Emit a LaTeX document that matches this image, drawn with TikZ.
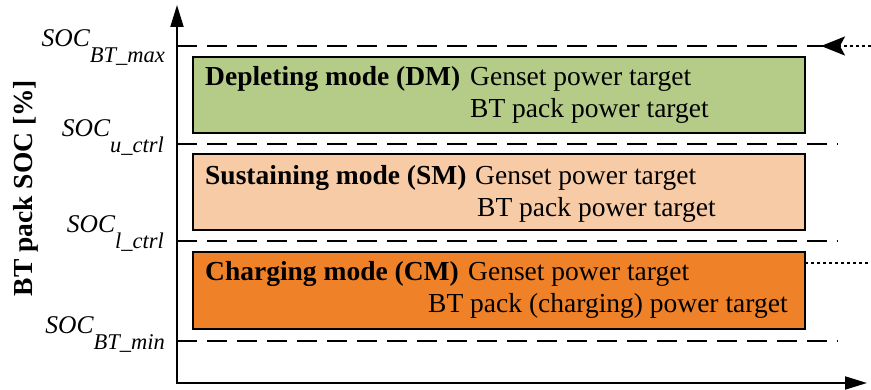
\documentclass[tikz,border=0pt]{standalone}
\usepackage{fontspec}
\setmainfont{Liberation Serif}
\usetikzlibrary{arrows.meta}
\definecolor{dmgreen}{HTML}{B5CB88}
\definecolor{smpeach}{HTML}{F8CBA7}
\definecolor{cmorange}{HTML}{EF8229}
\tikzset{
  axisline/.style={line width=2pt},
  tipA/.tip={Triangle[length=22pt,width=13pt]},
  levelline/.style={line width=2.2pt, dash pattern=on 20pt off 10pt},
  dotline/.style={line width=1.6pt, dash pattern=on 3pt off 3pt},
  modebox/.style={draw, line width=2.5pt, minimum width=612pt, inner sep=0pt, outer sep=0pt, anchor=north west},
  txt/.style={font=\fontsize{27.5}{33}\selectfont, inner sep=0pt, anchor=base west},
  boldtxt/.style={txt, font=\fontsize{27.5}{33}\selectfont\bfseries},
  soclab/.style={font=\fontsize{25.5}{30}\selectfont\itshape, inner sep=0pt, anchor=base east},
}
\newcommand{\socsub}[1]{\raisebox{-16pt}{\fontsize{22.5}{26}\selectfont\itshape #1}}
\begin{document}
\begin{tikzpicture}[x=1pt, y=-1pt]
\useasboundingbox (0,0) rectangle (871,390);

% mode boxes
\node[modebox, fill=dmgreen, minimum height=76pt] (dm) at (193,57) {};
\node[modebox, fill=smpeach, minimum height=76pt] (sm) at (193,154) {};
\node[modebox, fill=cmorange, minimum height=77pt] (cm) at (193,252) {};

% box texts
\node[boldtxt] (dmname) at (205,86) {Depleting mode (DM)};
\node[txt] (dmgen) at (470,86) {Genset power target};
\node[txt] (dmbt) at (470,118) {BT pack power target};
\node[boldtxt] (smname) at (205,185) {Sustaining mode (SM)};
\node[txt] (smgen) at (475,185) {Genset power target};
\node[txt] (smbt) at (477,217) {BT pack power target};
\node[boldtxt] (cmname) at (205,281) {Charging mode (CM)};
\node[txt] (cmgen) at (468,281) {Genset power target};
\node[txt] (cmbt) at (428,313) {BT pack (charging) power target};

% axes
\coordinate (origin) at (177,383);
\coordinate (ytop) at (177,5);
\coordinate (xend) at (867,383);
\draw[axisline, tipA-tipA] (ytop) |- (xend);

% level lines
\coordinate (maxa) at (177,46);
\coordinate (maxb) at (826,46);
\coordinate (ua) at (177,144);
\coordinate (ub) at (838,144);
\coordinate (la) at (177,241);
\coordinate (lb) at (838,241);
\coordinate (mina) at (177,341);
\coordinate (minb) at (838,341);
\draw[levelline] (maxa) -- (maxb);
\draw[levelline] (ua) -- (ub);
\draw[levelline] (la) -- (lb);
\draw[levelline] (mina) -- (minb);

% dotted connectors
\coordinate (inright) at (871,46);
\coordinate (intip) at (821,46);
\draw[dotline, -{Stealth[length=24pt,width=19pt,inset=5pt]}] (inright) -- (intip);
\coordinate (cmout) at (cm.east |- 0,263);
\coordinate (cmoutend) at (871,263);
\draw[dotline] (cmout) -- (cmoutend);

% SOC labels
\node[soclab] (socmax) at (165,47) {SOC\socsub{BT\_max}};
\node[soclab] (socu) at (164,137) {SOC\socsub{u\_ctrl}};
\node[soclab] (socl) at (164,233) {SOC\socsub{l\_ctrl}};
\node[soclab] (socmin) at (165,334) {SOC\socsub{BT\_min}};

% axis label
\node[rotate=90, anchor=base, inner sep=0pt, font=\fontsize{27.5}{33}\selectfont\bfseries] (ylab) at (32,188) {BT pack SOC [\%]};
\end{tikzpicture}
\end{document}
